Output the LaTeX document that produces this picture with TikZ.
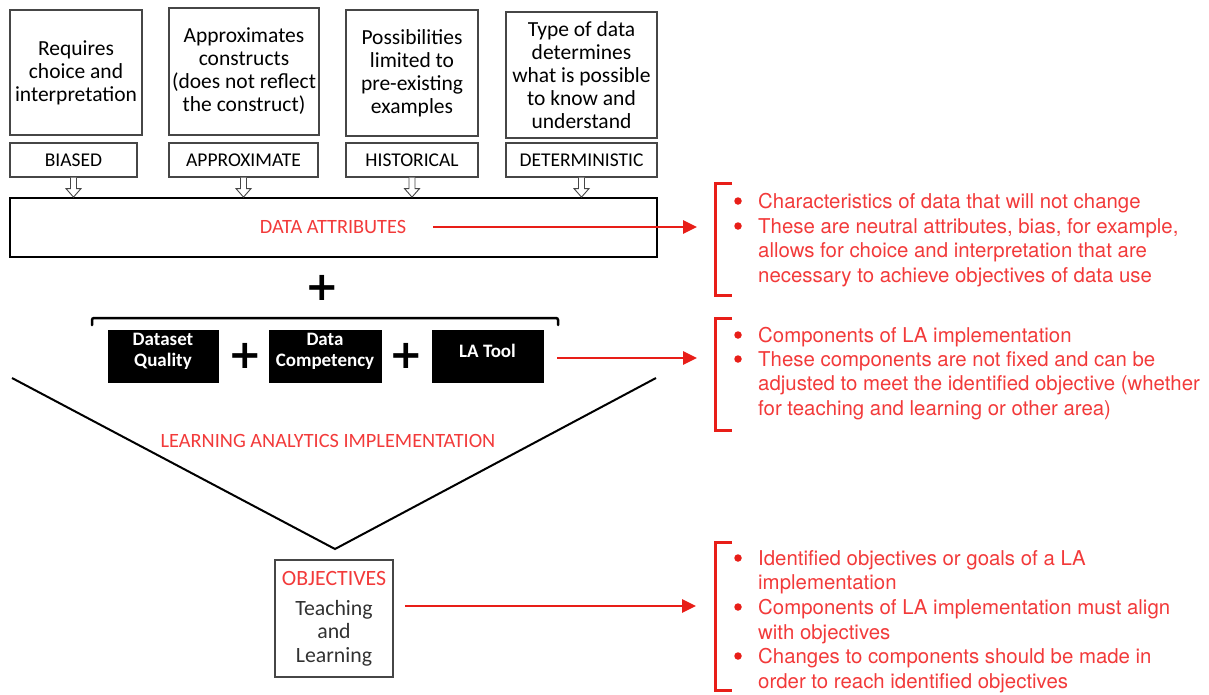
\documentclass[tikz,border=0pt]{standalone}
\usepackage{fontspec}
\setmainfont{Carlito}
\newfontfamily\helv{TeX Gyre Heros}
\newfontfamily\symf{DejaVu Sans}
\usetikzlibrary{arrows.meta,calc}
\definecolor{hot}{RGB}{232,30,24}
\definecolor{txtred}{RGB}{242,58,58}
\definecolor{boxgray}{RGB}{70,70,70}
\definecolor{darktext}{RGB}{50,50,50}
\begin{document}
\begin{tikzpicture}[x=1pt,y=-1pt,
  topbox/.style={draw=boxgray, line width=1.2pt, inner sep=0pt, align=center,
    font=\fontsize{21.5}{23}\selectfont},
  labbox/.style={draw=boxgray, line width=1.2pt, inner sep=0pt, minimum height=34pt,
    font=\fontsize{19.5}{21}\selectfont},
  blackbox/.style={fill=black, draw=black, inner sep=0pt, minimum width=#1, minimum height=52pt},
  wtext/.style={text=white, align=center, inner sep=0pt, font=\bfseries\fontsize{19}{21}\selectfont},
  redlabel/.style={text=txtred, inner sep=0pt, font=\fontsize{20.3}{22}\selectfont},
  plussign/.style={inner sep=0pt, font=\symf\bfseries\fontsize{40}{40}\selectfont},
  redarrow/.style={draw=hot, line width=2.8pt, -{Triangle[length=14pt,width=13pt]}},
  bracket/.style={draw=hot, line width=3pt},
  hollowtip/.style={draw=boxgray, line width=0.9pt, fill=white},
  note/.style={text=txtred, anchor=north west, align=left, inner sep=0pt,
    font=\helv\fontsize{20.4}{24.5}\selectfont},
  dot/.style={circle, fill=hot, inner sep=0pt, minimum size=7.5pt}
]
\useasboundingbox (0,0) rectangle (1209,694);

% --- description boxes
\node[topbox, minimum width=132pt, minimum height=125pt] (t1) at (76,72.5)
  {Requires\\choice and\\interpretation};
\node[topbox, minimum width=150pt, minimum height=127pt] (t2) at (244,71.5)
  {Approximates\\constructs\\(does not reflect\\the construct)};
\node[topbox, minimum width=132pt, minimum height=126pt] (t3) at (412,73)
  {Possibilities\\limited to\\pre-existing\\examples};
\node[topbox, minimum width=151pt, minimum height=126pt] (t4) at (581.5,75)
  {Type of data\\determines\\what is possible\\to know and\\understand};

% --- attribute labels
\node[labbox, minimum width=127pt] (l1) at (73.5,160) {BIASED};
\node[labbox, minimum width=149pt] (l2) at (243.5,160) {APPROXIMATE};
\node[labbox, minimum width=132pt] (l3) at (412,160) {HISTORICAL};
\node[labbox, minimum width=151pt] (l4) at (581.5,160) {DETERMINISTIC};

% --- data attributes bar
\node[draw=black, line width=2pt, minimum width=647pt, minimum height=59pt, inner sep=0pt]
  (da) at (333.5,227.5) {};
\node[redlabel] (datxt) at (333,227) {DATA ATTRIBUTES};

% hollow arrows from each label into the bar
\foreach \n in {l1,l2,l3,l4}{
  \draw[hollowtip] ($(\n.south)+(-3,0)$) -- ++(0,11) -- ++(-4.5,0) -- ++(7.5,8.5)
    -- ++(7.5,-8.5) -- ++(-4.5,0) -- ++(0,-11);
}

% --- plus between bar and components
\node[plussign] (p0) at (322,288) {+};

% --- bracket over the components
\draw[line width=2.5pt, line cap=round, rounded corners=2pt]
  (92,325) -- (92,318) -- (558,318) -- (558,325);

% --- components
\node[blackbox=110pt] (dq) at (163,356) {};
\node[wtext] (dqt) at (163,351.5) {Dataset\\Quality};
\node[plussign] (p1) at (245,356) {+};
\node[blackbox=112pt] (dc) at (325,356) {};
\node[wtext] (dct) at (325,351.5) {Data\\Competency};
\node[plussign] (p2) at (406,356) {+};
\node[blackbox=111pt] (lt) at (487.5,356) {};
\node[wtext] (ltt) at (487.5,351) {LA Tool};

% --- funnel towards the objectives
\coordinate (vl) at (12,378);
\coordinate (vr) at (656,378);
\coordinate (vb) at (335,549);
\draw[line width=2pt] (vl) -- (vb) -- (vr);
\node[redlabel] (lai) at (328,441) {LEARNING ANALYTICS IMPLEMENTATION};

% --- objectives
\node[draw=boxgray, line width=1.3pt, minimum width=118pt, minimum height=117pt, inner sep=0pt]
  (obj) at (334,618.5) {};
\node[redlabel, font=\fontsize{21.8}{22}\selectfont] (objt) at (334,578) {OBJECTIVES};
\node[text=darktext, align=center, inner sep=0pt, font=\fontsize{21.8}{23.5}\selectfont]
  (tl) at (334,633) {Teaching\\and\\Learning};

% --- brackets on the right
\coordinate (b1) at (715,227);
\coordinate (b2) at (715,358);
\coordinate (b3) at (715,606);
\draw[bracket] (732,183) -- (715,183) -- (715,295) -- (732,295);
\draw[bracket] (732,318) -- (715,318) -- (715,430) -- (732,430);
\draw[bracket] (732,542) -- (715,542) -- (715,690) -- (732,690);

% --- red arrows
\coordinate (a1) at (433,227);
\coordinate (a2) at (557,358);
\coordinate (a3) at (405,606);
\draw[redarrow] (a1) -- ($(b1)+(-18,0)$);
\draw[redarrow] (a2) -- ($(b2)+(-18,0)$);
\draw[redarrow] (a3) -- ($(b3)+(-19,0)$);

% --- notes
\node[dot] (d11) at (738,201) {};
\node[dot] (d12) at (738,226) {};
\node[note] (n11) at (758,193.3) {Characteristics of data that will not change};
\node[note] (n12) at (758,218.3) {These are neutral attributes, bias, for example,\\allows for choice and interpretation that are\\necessary to achieve objectives of data use};

\node[dot] (d21) at (738,335) {};
\node[dot] (d22) at (738,359) {};
\node[note] (n21) at (758,327.3) {Components of LA implementation};
\node[note] (n22) at (758,351.3) {These components are not fixed and can be\\adjusted to meet the identified objective (whether\\for teaching and learning or other area)};

\node[dot] (d31) at (738,558) {};
\node[dot] (d32) at (738,607) {};
\node[dot] (d33) at (738,656) {};
\node[note] (n31) at (758,550.3) {Identified objectives or goals of a LA\\implementation};
\node[note] (n32) at (758,599.3) {Components of LA implementation must align\\with objectives};
\node[note] (n33) at (758,648.3) {Changes to components should be made in\\order to reach identified objectives};
\end{tikzpicture}
\end{document}
